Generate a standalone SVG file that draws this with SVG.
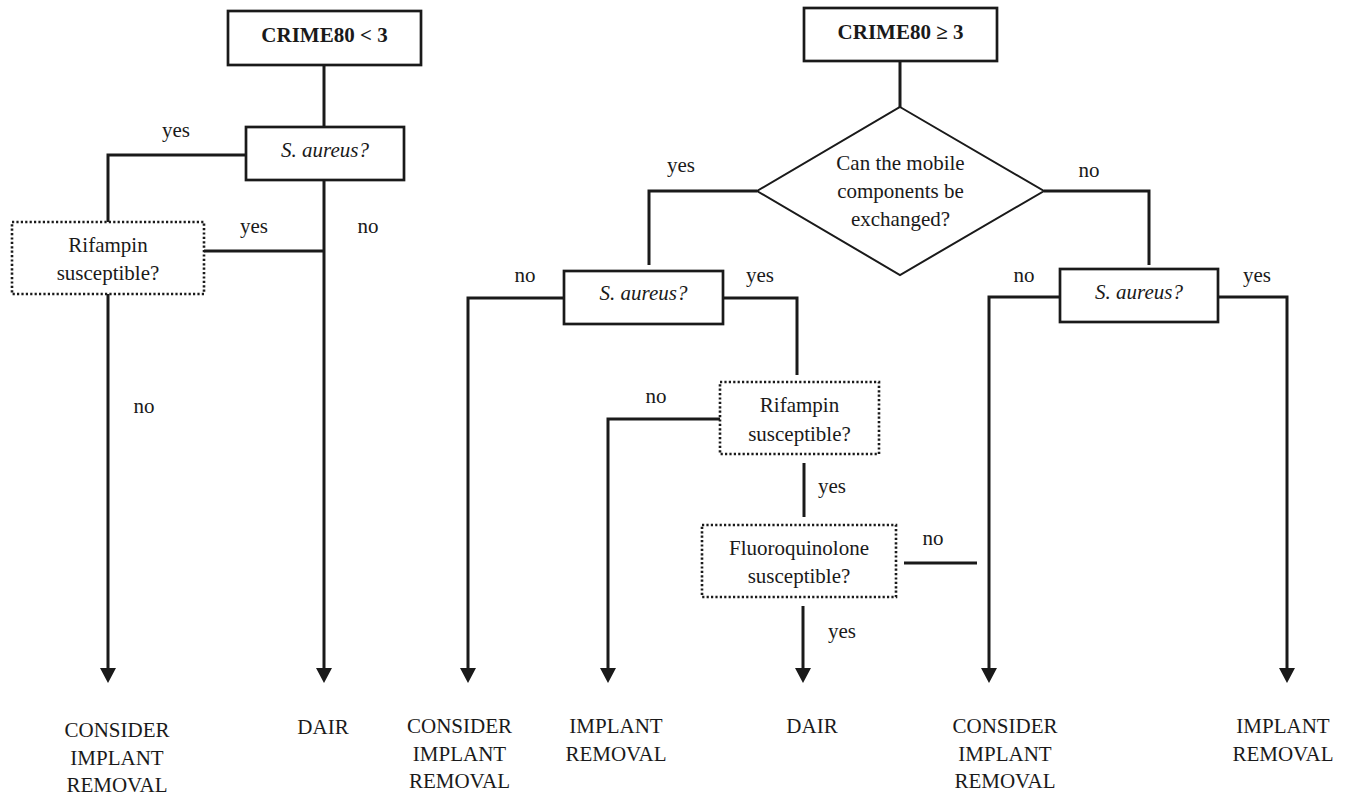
<svg xmlns="http://www.w3.org/2000/svg" width="1345" height="795" viewBox="0 0 1345 795">
<style>
text{font-family:'Liberation Serif','Tinos','Times New Roman','DejaVu Serif',serif;font-size:21px;fill:#1a1a1a;text-anchor:middle}
.b{font-weight:bold}
.i{font-style:italic}
.box{fill:#fff;stroke:#1a1a1a;stroke-width:2.7}
.dot{fill:#fff;stroke:#1a1a1a;stroke-width:2.6;stroke-dasharray:2.2 2.2}
.dia{fill:#fff;stroke:#1a1a1a;stroke-width:2}
.c path{fill:none;stroke:#1a1a1a;stroke-width:3}
</style>
<defs>
<marker id="ah" markerUnits="userSpaceOnUse" markerWidth="16" markerHeight="16" viewBox="0 0 16 16" refX="0" refY="8" orient="auto">
<path d="M0,0 L15,8 L0,16 z" fill="#1a1a1a"/>
</marker>
</defs>
<g class="c" id="connectors">
<path d="M324,65 V127"/>
<path d="M246,155 H108 V222"/>
<path d="M204,251 H324"/>
<path d="M108,294 V668" marker-end="url(#ah)"/>
<path d="M324,180 V668" marker-end="url(#ah)"/>
<path d="M900,61 V107"/>
<path d="M757,191 H649 V265"/>
<path d="M1044,191 H1149 V265"/>
<path d="M564,298 H468 V668" marker-end="url(#ah)"/>
<path d="M723,298 H797 V375"/>
<path d="M720,419 H608 V668" marker-end="url(#ah)"/>
<path d="M804,463 V517"/>
<path d="M904,563 H977"/>
<path d="M803,606 V668" marker-end="url(#ah)"/>
<path d="M1060,297 H989 V668" marker-end="url(#ah)"/>
<path d="M1218,297 H1287 V668" marker-end="url(#ah)"/>
</g>
<g id="labels" font-family="Liberation Serif, serif">
<text x="176" y="137">yes</text>
<text x="254" y="233">yes</text>
<text x="368" y="233">no</text>
<text x="144" y="413">no</text>
<text x="681" y="172">yes</text>
<text x="1089" y="177">no</text>
<text x="525" y="282">no</text>
<text x="760" y="282">yes</text>
<text x="1024" y="282">no</text>
<text x="1257" y="282">yes</text>
<text x="656" y="403">no</text>
<text x="832" y="493">yes</text>
<text x="933" y="545">no</text>
<text x="842" y="638">yes</text>
</g>
<g id="crime-low">
<rect class="box" x="228" y="11" width="193" height="54"/>
<text class="b" x="324.5" y="42">CRIME80 &lt; 3</text>
</g>
<g id="saureus-left">
<rect class="box" x="246" y="127" width="158" height="53"/>
<text class="i" x="325" y="157">S. aureus?</text>
</g>
<g id="rifampin-left">
<rect class="dot" x="12" y="222" width="192" height="72"/>
<text x="108" y="252">Rifampin</text>
<text x="108" y="280">susceptible?</text>
</g>
<g id="crime-high">
<rect class="box" x="804" y="8" width="193" height="53"/>
<text class="b" x="900.5" y="39">CRIME80 ≥ 3</text>
</g>
<g id="mobile">
<polygon class="dia" points="900,107 1044,191 900,275 757,191"/>
<text x="900.5" y="170">Can the mobile</text>
<text x="900.5" y="198">components be</text>
<text x="900.5" y="226">exchanged?</text>
</g>
<g id="saureus-mid">
<rect class="box" x="564" y="271" width="159" height="53"/>
<text class="i" x="643.5" y="300">S. aureus?</text>
</g>
<g id="rifampin-mid">
<rect class="dot" x="720" y="382" width="159" height="72"/>
<text x="799.5" y="412">Rifampin</text>
<text x="799.5" y="441">susceptible?</text>
</g>
<g id="fluoro">
<rect class="dot" x="702" y="525" width="194" height="72"/>
<text x="799" y="555">Fluoroquinolone</text>
<text x="799" y="583">susceptible?</text>
</g>
<g id="saureus-right">
<rect class="box" x="1060" y="269" width="158" height="53"/>
<text class="i" x="1139" y="299">S. aureus?</text>
</g>
<g id="out1">
<text x="117" y="737">CONSIDER</text>
<text x="117" y="765">IMPLANT</text>
<text x="117" y="792">REMOVAL</text>
</g>
<g id="out2">
<text x="323" y="734">DAIR</text>
</g>
<g id="out3">
<text x="459.5" y="733">CONSIDER</text>
<text x="459.5" y="761">IMPLANT</text>
<text x="459.5" y="788">REMOVAL</text>
</g>
<g id="out4">
<text x="616" y="733">IMPLANT</text>
<text x="616" y="761">REMOVAL</text>
</g>
<g id="out5">
<text x="812" y="733">DAIR</text>
</g>
<g id="out6">
<text x="1005" y="733">CONSIDER</text>
<text x="1005" y="761">IMPLANT</text>
<text x="1005" y="788">REMOVAL</text>
</g>
<g id="out7">
<text x="1283" y="733">IMPLANT</text>
<text x="1283" y="761">REMOVAL</text>
</g>
</svg>
